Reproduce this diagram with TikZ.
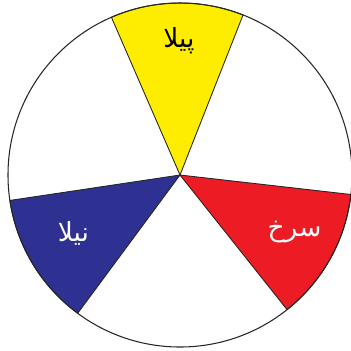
\documentclass[tikz,border=0pt]{standalone}
\usepackage{fontspec}
\usepackage{xcolor}
\usepackage{tikz}
\TeXXeTstate=1
\newfontfamily\urdufont[Script=Arabic]{DejaVu Sans}
\definecolor{peelacolor}{RGB}{255,237,0}
\definecolor{surkhcolor}{RGB}{237,28,36}
\definecolor{neelacolor}{RGB}{46,49,146}
\tikzset{
  sector/.style={fill=#1, draw=black!85, line width=0.5pt, line join=miter},
  sector/.default=white,
  wheelrim/.style={draw=black!85, line width=0.6pt},
  colname/.style={font=\urdufont\fontsize{15}{18}\selectfont, text=#1},
  colname/.default=black,
}
\newcommand{\wheelr}{3.44}

\begin{document}
\begin{tikzpicture}
  % Frame
  \useasboundingbox (-3.6,-3.5) rectangle (3.42,3.5);
  \coordinate (hub) at (0,0);

  % Sectors
  \draw[sector=peelacolor] (hub) -- (68.5:\wheelr) arc (68.5:113.5:\wheelr) -- cycle;
  \draw[sector=surkhcolor] (hub) -- (-51.5:\wheelr) arc (-51.5:-6.5:\wheelr) -- cycle;
  \draw[sector=neelacolor] (hub) -- (188.5:\wheelr) arc (188.5:233.5:\wheelr) -- cycle;

  % Rim
  \draw[wheelrim] (hub) circle (\wheelr);

  % Labels
  \node[colname=black] (peela) at (-0.02,2.68) {\beginR پیلا\endR};
  \node[colname=white] (surkh) at (2.29,-1.14) {\beginR سرخ\endR};
  \node[colname=white] (neela) at (-2.13,-1.16) {\beginR نیلا\endR};
\end{tikzpicture}
\end{document}
